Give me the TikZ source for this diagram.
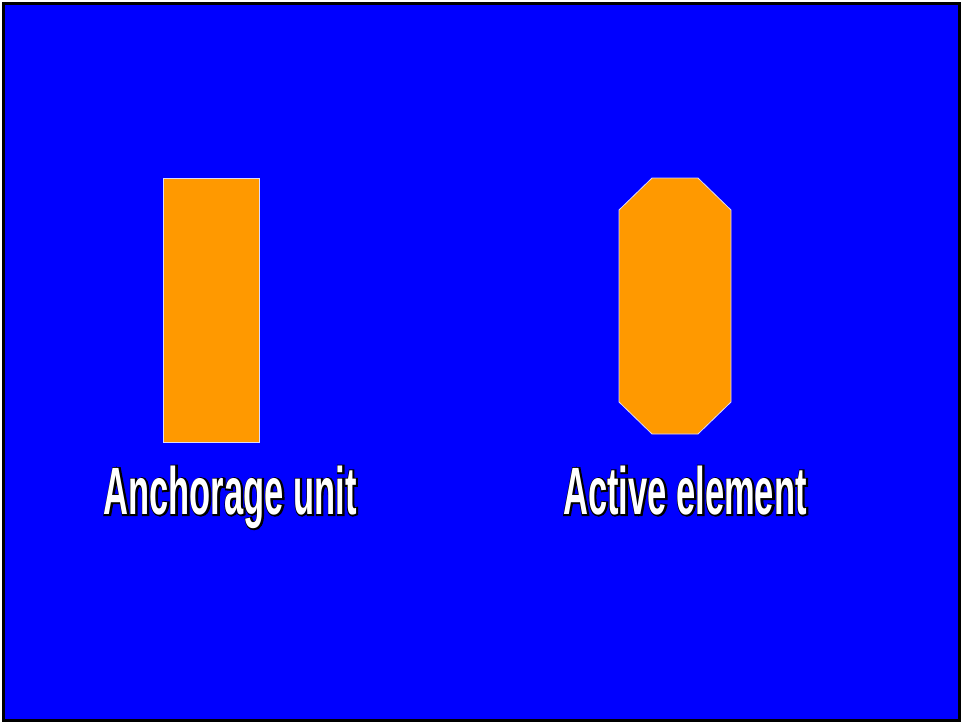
\documentclass[tikz,border=0pt]{standalone}
\usepackage{fontspec}
\newfontfamily\labelfont[FakeStretch=0.515]{Liberation Sans Bold}
\definecolor{slideblue}{RGB}{0,0,255}
\definecolor{partorange}{RGB}{255,153,0}
% thick black stroke round the letters, white letters drawn on top
\newcommand{\halo}[1]{\special{pdf:literal direct 0 0 0 RG 2 Tr 2.8 w}#1}
\tikzset{
  part/.style={fill=partorange, draw=white!85!blue, line width=0.8pt},
  anchorblock/.style={part, rectangle, minimum width=96pt, minimum height=264pt, inner sep=0pt},
  caption/.style={anchor=base, text=white, font=\labelfont\fontsize{67}{70}\selectfont, inner sep=0pt},
  captionhalo/.style={caption, text=black}
}

\begin{document}
\begin{tikzpicture}[x=1pt, y=-1pt]
  \useasboundingbox (0,0) rectangle (961,723);
  \fill[white] (0,0) rectangle (961,723);
  \fill[slideblue, draw=black, line width=3pt] (3.5,3.5) rectangle (959.5,720.5);

  % anchorage unit
  \node[anchorblock] (unit) at (211,310) {};
  \node[captionhalo] at (230.6,514.6) {\halo{Anchorage unit}};
  \node[caption] (unitlabel) at (230,514) {Anchorage unit};

  % active element
  \draw[part] (619,210) -- (652,178) -- (698,178) -- (731,210)
    -- (731,402) -- (698,434) -- (652,434) -- (619,402) -- cycle;
  \node[captionhalo] at (685.6,514.6) {\halo{Active element}};
  \node[caption] (elementlabel) at (685,514) {Active element};
\end{tikzpicture}
\end{document}
